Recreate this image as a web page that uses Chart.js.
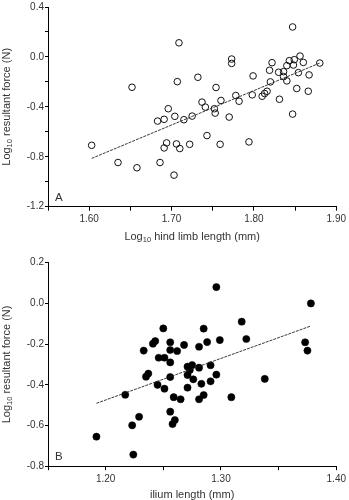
<!DOCTYPE html>
<html>
<head>
<meta charset="utf-8">
<script src="https://cdn.jsdelivr.net/npm/chart.js@4/dist/chart.umd.min.js"></script>
<style>
  html, body { margin: 0; padding: 0; background: #fff; }
  #wrap { position: relative; width: 349px; height: 500px; }
  canvas { position: absolute; left: 0; }
  #cA { top: 0; }
  #cB { top: 250px; }
</style>
</head>
<body>
<div id="wrap">
  <canvas id="cA" width="349" height="250"></canvas>
  <canvas id="cB" width="349" height="250"></canvas>
</div>
<script>
// ---- Panel A data: log10 hind limb length (mm) vs log10 resultant force (N)
const hindLimbA = [1.603,1.635,1.652,1.658,1.683,1.686,1.691,1.691,1.694,1.696,
  1.703,1.704,1.706,1.707,1.709,1.710,1.715,1.722,1.725,1.732,
  1.737,1.741,1.743,1.752,1.753,1.754,1.759,1.760,1.770,1.773,
  1.773,1.778,1.782,1.794,1.798,1.799,1.810,1.813,1.816,1.819,
  1.820,1.822,1.830,1.831,1.836,1.836,1.840,1.840,1.843,1.847,
  1.847,1.848,1.849,1.852,1.854,1.856,1.860,1.866,1.867,1.880];
const forceA = [-0.708,-0.846,-0.243,-0.888,-0.514,-0.846,-0.500,-0.729,-0.689,-0.415,
  -0.947,-0.476,-0.697,-0.198,0.113,-0.734,-0.503,-0.700,-0.474,-0.163,
  -0.362,-0.402,-0.630,-0.415,-0.450,-0.245,-0.700,-0.349,-0.482,-0.017,
  -0.052,-0.309,-0.355,-0.681,-0.304,-0.152,-0.315,-0.293,-0.275,-0.107,
  -0.200,-0.046,-0.123,-0.339,-0.118,-0.158,-0.070,-0.192,-0.030,0.240,
  -0.458,-0.065,-0.022,-0.253,-0.126,0.007,-0.044,-0.275,-0.144,-0.049];
const fitAx = [1.603, 1.880];
const fitAy = [-0.813, -0.049];

// ---- Panel B data: ilium length (mm) vs log10 resultant force (N)
const iliumB = [1.192,1.217,1.223,1.224,1.229,1.233,1.235,1.237,1.241,1.243,
  1.245,1.246,1.250,1.251,1.251,1.256,1.256,1.256,1.256,1.256,
  1.258,1.260,1.259,1.262,1.265,1.268,1.271,1.273,1.275,1.271,
  1.271,1.276,1.281,1.281,1.283,1.281,1.285,1.285,1.288,1.291,
  1.291,1.296,1.296,1.299,1.309,1.318,1.322,1.338,1.373,1.375,1.378];
const forceB = [-0.655,-0.449,-0.599,-0.743,-0.557,-0.232,-0.360,-0.345,-0.198,-0.185,
  -0.400,-0.267,-0.123,-0.267,-0.419,-0.191,-0.229,-0.290,-0.362,-0.532,
  -0.593,-0.573,-0.461,-0.234,-0.471,-0.204,-0.311,-0.327,-0.303,-0.352,
  -0.414,-0.373,-0.213,-0.316,-0.395,-0.471,-0.450,-0.124,-0.190,-0.304,
  -0.383,0.080,-0.350,-0.180,-0.461,-0.090,-0.175,-0.371,-0.191,-0.232,0.000];
const fitBx = [1.192, 1.378];
const fitBy = [-0.491, -0.111];

// ---- Tick values and labels
const xTicksA = [1.55,1.60,1.65,1.70,1.75,1.80,1.85,1.90];
const xLabelsA = ['','1.60','','1.70','','1.80','','1.90'];
const yTicksA = [-1.2,-1.0,-0.8,-0.6,-0.4,-0.2,0.0,0.2,0.4];
const yLabelsA = ['-1.2','','-0.8','','-0.4','','0.0','','0.4'];
const xTicksB = [1.15,1.20,1.25,1.30,1.35,1.40];
const xLabelsB = ['','1.20','','1.30','','1.40'];
const yTicksB = [-0.8,-0.6,-0.4,-0.2,0.0,0.2];
const yLabelsB = ['-0.8','-0.6','-0.4','-0.2','0.0','0.2'];

// Axis titles: [main, subscript, rest]
const yTitle = ['Log', '10', ' resultant force (N)'];
const xTitleA = ['Log', '10', ' hind limb length (mm)'];
const xTitleB = ['ilium length (mm)', '', ''];

const FONT = "'Liberation Sans', Arial, sans-serif";
const TXT = '#333333';

function pts(xs, ys) { return xs.map((x, i) => ({x: x, y: ys[i]})); }

function drawRich(ctx, parts, cx, cy, rotate) {
  const mainF = "11px " + FONT, subF = "7.5px " + FONT;
  ctx.save();
  ctx.fillStyle = TXT;
  ctx.textBaseline = 'middle';
  ctx.textAlign = 'left';
  ctx.font = mainF; const w0 = ctx.measureText(parts[0]).width;
  ctx.font = subF; const w1 = ctx.measureText(parts[1]).width;
  ctx.font = mainF; const w2 = ctx.measureText(parts[2]).width;
  const total = w0 + w1 + w2;
  ctx.translate(cx, cy);
  if (rotate) ctx.rotate(-Math.PI / 2);
  let x = -total / 2;
  ctx.font = mainF; ctx.fillText(parts[0], x, 0); x += w0;
  ctx.font = subF; ctx.fillText(parts[1], x, 3); x += w1;
  ctx.font = mainF; ctx.fillText(parts[2], x, 0);
  ctx.restore();
}

const decor = {
  id: 'decor',
  afterDraw(chart, args, opts) {
    const {ctx, chartArea, scales} = chart;
    ctx.save();
    ctx.fillStyle = TXT;
    ctx.font = "11.5px " + FONT;
    ctx.textBaseline = 'alphabetic';
    ctx.textAlign = 'left';
    ctx.fillText(opts.letter, chartArea.left + 7, chartArea.bottom - 6);
    ctx.restore();
    drawRich(ctx, opts.yTitle, scales.y.left + 6.8, (chartArea.top + chartArea.bottom) / 2, true);
    drawRich(ctx, opts.xTitle, (chartArea.left + chartArea.right) / 2, scales.x.bottom - opts.xTitleOff, false);
  }
};

function axis(min, max, tickVals, tickLabels, isX, fitSize) {
  return {
    type: 'linear',
    position: isX ? 'bottom' : 'left',
    min: min, max: max,
    afterBuildTicks: (s) => { s.ticks = tickVals.map(v => ({value: v})); },
    afterFit: (s) => { if (isX) s.height = fitSize; else s.width = fitSize; },
    ticks: {
      autoSkip: false,
      maxRotation: 0,
      color: TXT,
      font: {family: FONT, size: 10},
      padding: isX ? 3 : 1,
      callback: (v, i) => tickLabels[i]
    },
    grid: {display: true, drawOnChartArea: false, drawTicks: true, tickLength: isX ? 4 : 3, color: '#000', lineWidth: 1},
    border: {display: true, color: '#000', width: 1},
    title: {display: false}
  };
}

function makeChart(id, scatter, fit, xs, ys, decorOpts, pad, pointStyle) {
  return new Chart(document.getElementById(id), {
    data: {
      datasets: [
        Object.assign({type: 'scatter', data: scatter, order: 2}, pointStyle),
        {type: 'line', data: fit, borderColor: '#222', borderWidth: 0.9, borderDash: [3, 1],
         pointRadius: 0, fill: false, tension: 0, order: 1}
      ]
    },
    options: {
      responsive: false,
      devicePixelRatio: 1,
      animation: false,
      layout: {padding: pad},
      plugins: {legend: {display: false}, tooltip: {enabled: false}, decor: decorOpts},
      scales: {x: xs, y: ys}
    },
    plugins: [decor]
  });
}

makeChart('cA', pts(hindLimbA, forceA), pts(fitAx, fitAy),
  axis(1.55, 1.90, xTicksA, xLabelsA, true, 43.3),
  axis(-1.2, 0.4, yTicksA, yLabelsA, false, 48),
  {letter: 'A', yTitle: yTitle, xTitle: xTitleA, xTitleOff: 12.7},
  {top: 6, right: 10, left: 0, bottom: 0},
  {pointStyle: 'circle', pointRadius: 3.3, pointBorderWidth: 1, pointBorderColor: '#111', pointBackgroundColor: 'rgba(255,255,255,0)'});

makeChart('cB', pts(iliumB, forceB), pts(fitBx, fitBy),
  axis(1.15, 1.40, xTicksB, xLabelsB, true, 33.8),
  axis(-0.8, 0.2, yTicksB, yLabelsB, false, 48),
  {letter: 'B', yTitle: yTitle, xTitle: xTitleB, xTitleOff: 5.5},
  {top: 12.7, right: 10, left: 0, bottom: 0},
  {pointStyle: 'circle', pointRadius: 3.6, pointBorderWidth: 0.5, pointBorderColor: '#000', pointBackgroundColor: '#000'});
</script>
</body>
</html>
